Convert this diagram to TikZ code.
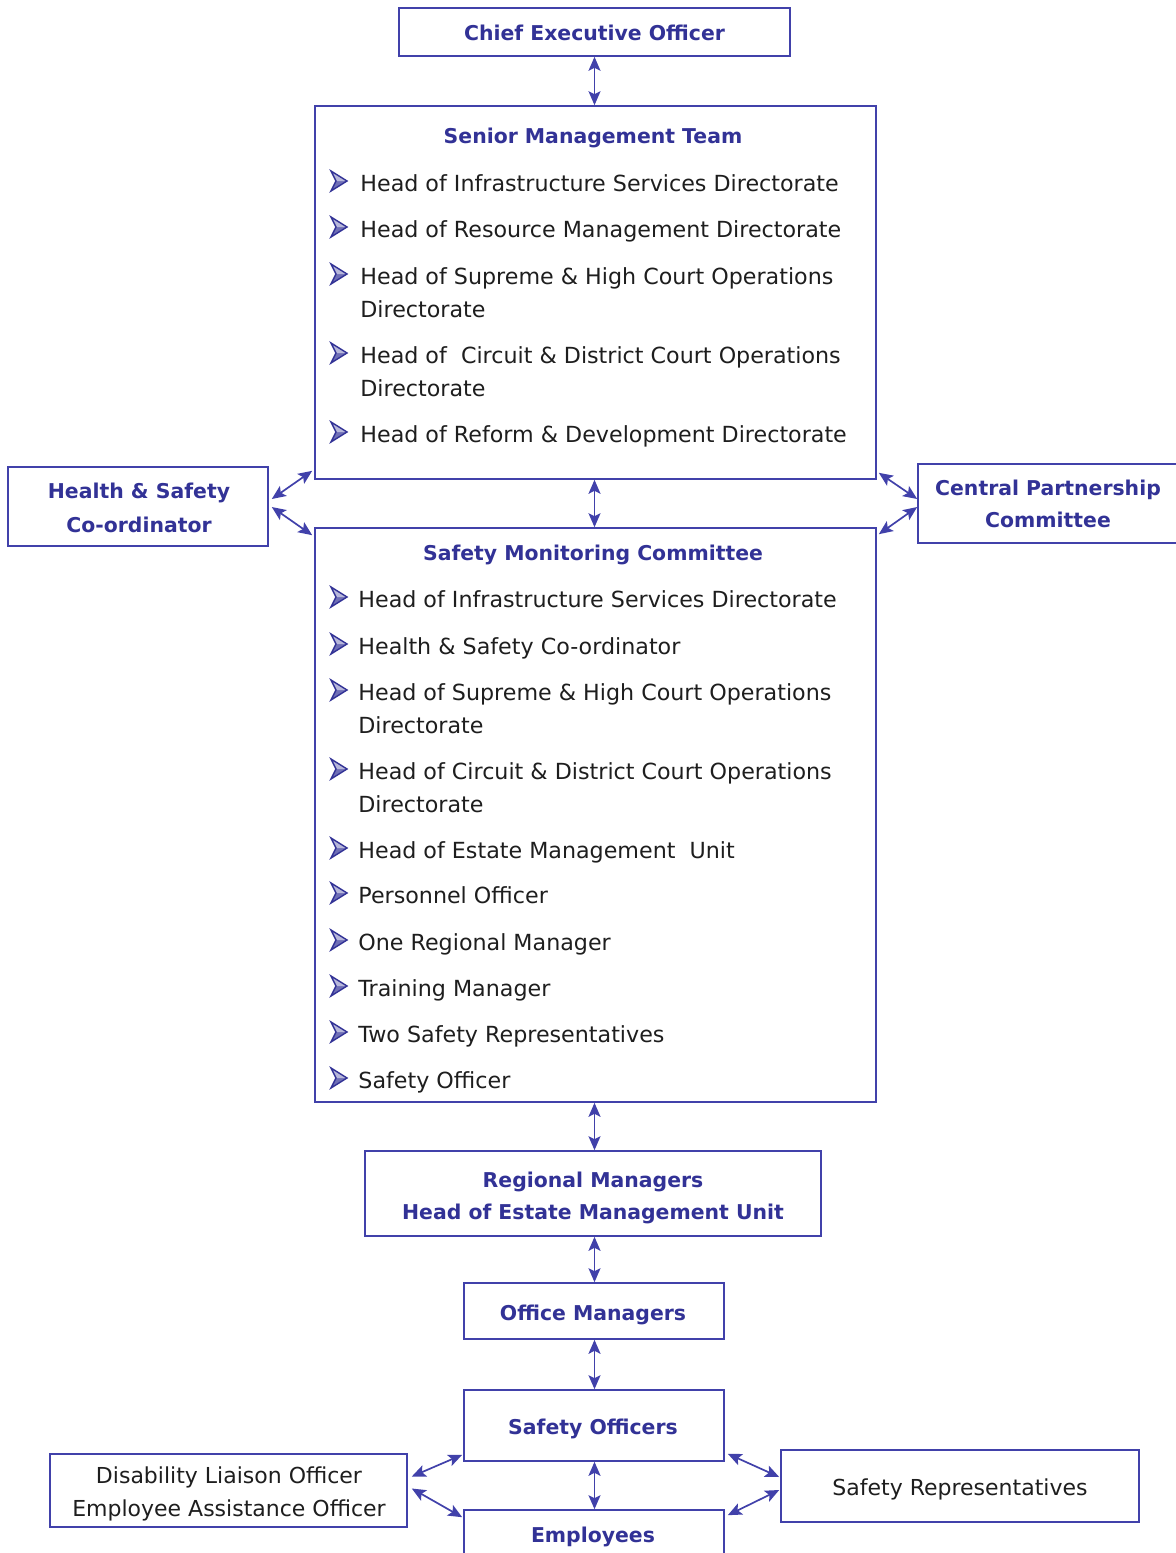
\documentclass[tikz,border=0pt]{standalone}
\usepackage{fontspec}
\setmainfont{DejaVu Sans}
\usetikzlibrary{arrows.meta,calc}
\definecolor{ublue}{RGB}{50,50,150}
\definecolor{uline}{RGB}{65,65,170}
\definecolor{utext}{RGB}{30,30,30}
\begin{document}
\begin{tikzpicture}[x=0.5pt,y=-0.5pt,
  box/.style={draw=uline,line width=0.8pt,inner sep=0pt,fill=white},
  ttl/.style={text=ublue,font=\fontsize{10.2}{15}\selectfont\bfseries,inner sep=0pt,anchor=base},
  item/.style={text=utext,font=\fontsize{11.1}{16.5}\selectfont,inner sep=0pt,anchor=base west},
  plain/.style={text=utext,font=\fontsize{11}{16.5}\selectfont,inner sep=0pt,anchor=base},
  arr/.style={draw=uline,line width=0.85pt,{Stealth[length=7pt,width=6pt,inset=1.5pt]}-{Stealth[length=7pt,width=6pt,inset=1.5pt]}},
  bul/.pic={
    \fill[ublue!70] (0,10) -- (16,0) -- (5,0) -- cycle;
    \fill[ublue!35] (0,-10) -- (16,0) -- (5,0) -- cycle;
    \draw[ublue,line width=0.7pt,line join=miter] (0,-10) -- (16,0) -- (0,10) -- (5,0) -- cycle;
  }]
\useasboundingbox (0,0) rectangle (1175,1553);

% boxes
\node[box,minimum width=195.5pt,minimum height=24pt] (ceo) at (594.5,32) {};
\node[box,minimum width=280.5pt,minimum height=186.5pt] (smt) at (595.5,292.5) {};
\node[box,minimum width=130pt,minimum height=39.5pt] (hs) at (138,506.5) {};
\node[box,minimum width=130pt,minimum height=39.5pt] (cpc) at (1048,503.5) {};
\node[box,minimum width=280.5pt,minimum height=287pt] (smc) at (595.5,815) {};
\node[box,minimum width=228pt,minimum height=42.5pt] (rm) at (593,1193.5) {};
\node[box,minimum width=130pt,minimum height=28pt] (om) at (594,1311) {};
\node[box,minimum width=130pt,minimum height=35.5pt] (so) at (594,1425.5) {};
\node[box,minimum width=130pt,minimum height=30pt] (emp) at (594,1540) {};
\node[box,minimum width=178.5pt,minimum height=36.5pt] (dlo) at (228.5,1490.5) {};
\node[box,minimum width=179pt,minimum height=36pt] (sr) at (960,1486) {};

% titles
\node[ttl] (tceo) at (594.5,40.5) {Chief Executive Officer};
\node[ttl] (tsmt) at (593,143) {Senior Management Team};
\node[ttl] (ths1) at (139,498.5) {Health \& Safety};
\node[ttl] (ths2) at (139,532.5) {Co-ordinator};
\node[ttl] (tcpc1) at (1048,495.5) {Central Partnership};
\node[ttl] (tcpc2) at (1048,527.5) {Committee};
\node[ttl] (tsmc) at (593,560.5) {Safety Monitoring Committee};
\node[ttl] (trm1) at (593,1187.5) {Regional Managers};
\node[ttl] (trm2) at (593,1219.5) {Head of Estate Management Unit};
\node[ttl] (tom) at (593,1320.5) {Office Managers};
\node[ttl] (tso) at (593,1434.5) {Safety Officers};
\node[ttl] (temp) at (593,1542.5) {Employees};
\node[plain] (tdlo1) at (229,1483) {Disability Liaison Officer};
\node[plain] (tdlo2) at (229,1516) {Employee Assistance Officer};
\node[plain] (tsr) at (960,1495) {Safety Representatives};

% SMT items
\foreach \y in {181,227,274,353,432} {\pic at (331,\y) {bul};}
\node[item] (a1) at (360,191) {Head of Infrastructure Services Directorate};
\node[item] (a2) at (360,237) {Head of Resource Management Directorate};
\node[item] (a3) at (360,284) {Head of Supreme \& High Court Operations};
\node[item] (a3b) at (360,317) {Directorate};
\node[item] (a4) at (360,363) {Head of\ \ Circuit \& District Court Operations};
\node[item] (a4b) at (360,396) {Directorate};
\node[item] (a5) at (360,442) {Head of Reform \& Development Directorate};

% SMC items
\foreach \y in {597,644,690,769,848,893,940,986,1032,1078} {\pic at (331,\y) {bul};}
\node[item] (b1) at (358,607) {Head of Infrastructure Services Directorate};
\node[item] (b2) at (358,654) {Health \& Safety Co-ordinator};
\node[item] (b3) at (358,700) {Head of Supreme \& High Court Operations};
\node[item] (b3b) at (358,733) {Directorate};
\node[item] (b4) at (358,779) {Head of Circuit \& District Court Operations};
\node[item] (b4b) at (358,812) {Directorate};
\node[item] (b5) at (358,858) {Head of Estate Management\ \ Unit};
\node[item] (b6) at (358,903) {Personnel Officer};
\node[item] (b7) at (358,950) {One Regional Manager};
\node[item] (b8) at (358,996) {Training Manager};
\node[item] (b9) at (358,1042) {Two Safety Representatives};
\node[item] (b10) at (358,1088) {Safety Officer};

% vertical connectors
\draw[arr] (ceo.south) -- (ceo.south |- smt.north);
\draw[arr] (smt.south -| ceo.south) -- (smc.north -| ceo.south);
\draw[arr] (smc.south -| ceo.south) -- (rm.north -| ceo.south);
\draw[arr] (rm.south -| ceo.south) -- (om.north -| ceo.south);
\draw[arr] (om.south -| ceo.south) -- (so.north -| ceo.south);
\draw[arr] (so.south -| ceo.south) -- (emp.north -| ceo.south);

% diagonal connectors (upper)
\draw[arr] ($(hs.east)+(3,-7.5)$) -- ($(smt.south west)+(-2,-9)$);
\draw[arr] ($(hs.east)+(3,0.5)$) -- ($(smc.north west)+(-2,8)$);
\draw[arr] ($(cpc.west)+(0,-4.5)$) -- ($(smt.south east)+(2,-7)$);
\draw[arr] ($(cpc.west)+(0,3.5)$) -- ($(smc.north east)+(2,7)$);

% diagonal connectors (lower)
\draw[arr] ($(dlo.east)+(4,-14)$) -- ($(so.south west)+(-1,-7)$);
\draw[arr] ($(dlo.east)+(4,-2)$) -- ($(emp.north west)+(-1,8)$);
\draw[arr] ($(sr.west)+(-1,-9)$) -- ($(so.south east)+(3,-8)$);
\draw[arr] ($(sr.west)+(-1,4)$) -- ($(emp.north east)+(3,6)$);
\end{tikzpicture}
\end{document}
